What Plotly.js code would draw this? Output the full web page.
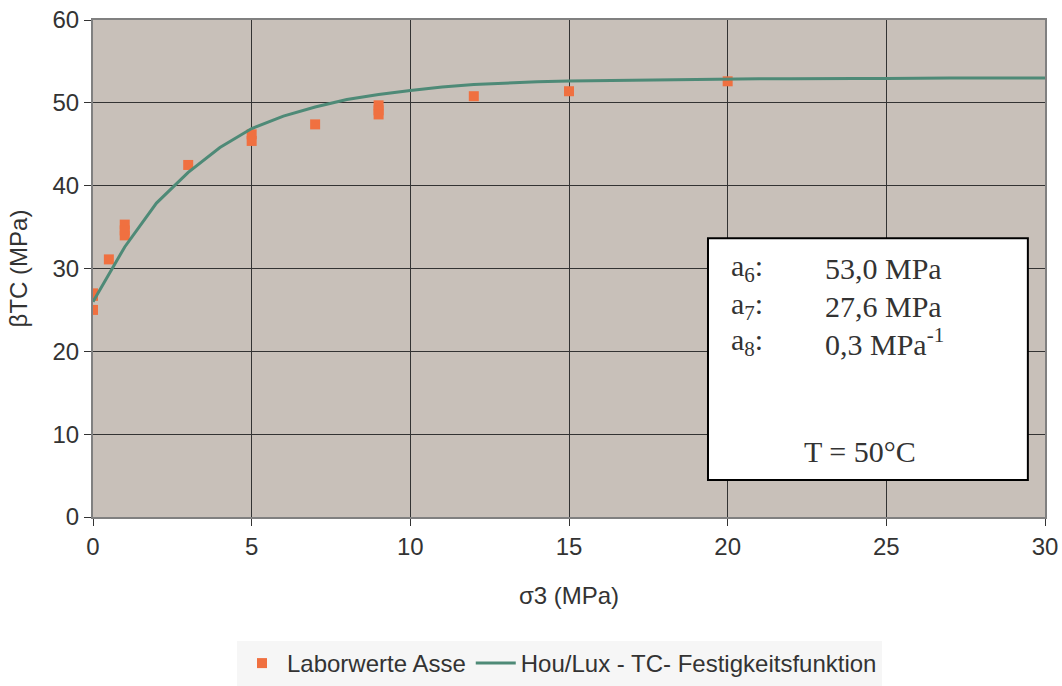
<!DOCTYPE html>
<html>
<head>
<meta charset="utf-8">
<script src="https://cdn.plot.ly/plotly-3.0.1.min.js"></script>
<style>html,body{margin:0;padding:0;background:#fff;}#chart{width:1062px;height:686px;}</style>
</head>
<body>
<div id="chart"></div>
<script>
// Laboratory values (σ3 in MPa, βTC in MPa)
const labX = [0, 0, 0, 0.5, 1, 1, 1, 3, 5, 5, 7, 9, 9, 9, 12, 15, 20];
const labY = [25.0, 26.7, 27.0, 31.1, 35.3, 34.6, 34.0, 42.5, 46.2, 45.4, 47.4, 49.7, 49.1, 48.6, 50.8, 51.4, 52.6];

// Hou/Lux curve
const curveX = [0, 1, 2, 3, 4, 5, 6, 7, 8, 9, 10, 11, 12, 13, 14, 15, 16, 17, 18, 19, 20, 21, 22, 23, 24, 25, 26, 27, 28, 29, 30];
const curveY = [26.0, 32.6, 37.9, 41.6, 44.6, 46.9, 48.4, 49.5, 50.4, 51.0, 51.5, 51.9, 52.2, 52.4, 52.55, 52.65, 52.7, 52.75, 52.8, 52.85, 52.85, 52.9, 52.9, 52.95, 52.95, 52.95, 53.0, 53.0, 53.0, 53.0, 53.0];

const xTicks = [0, 5, 10, 15, 20, 25, 30];
const yTicks = [0, 10, 20, 30, 40, 50, 60];

const seriesNames = ["Laborwerte Asse", "Hou/Lux - TC- Festigkeitsfunktion"];
const boxLabels = ["a<sub>6</sub>:", "a<sub>7</sub>:", "a<sub>8</sub>:"];
const boxValues = ["53,0 MPa", "27,6 MPa", "0,3 MPa<sup>-1</sup>"];
const boxTemp = "T = 50°C";

const traces = [
  {
    x: labX, y: labY, type: "scatter", mode: "markers", name: seriesNames[0],
    marker: {symbol: "square", size: 10, color: "#f07040"}
  },
  {
    x: curveX, y: curveY, type: "scatter", mode: "lines", name: seriesNames[1],
    line: {color: "#4e8a77", width: 3}
  }
];

const axisFont = {family: "Liberation Sans, Arial, sans-serif", size: 24, color: "#333333"};
const boxFont = {family: "Liberation Serif, Times New Roman, serif", size: 30, color: "#333333"};

const annotations = [];
const lineY = [0.501, 0.4245, 0.352];
boxLabels.forEach((t, i) => {
  annotations.push({xref: "paper", yref: "paper", x: 0.668, y: lineY[i], xanchor: "left", yanchor: "middle",
    text: t, showarrow: false, font: boxFont});
  annotations.push({xref: "paper", yref: "paper", x: 0.767, y: lineY[i], xanchor: "left", yanchor: "middle",
    text: boxValues[i], showarrow: false, font: boxFont});
});
annotations.push({xref: "paper", yref: "paper", x: 0.806, y: 0.131, xanchor: "center", yanchor: "middle",
  text: boxTemp, showarrow: false, font: boxFont});

const layout = {
  width: 1062, height: 686,
  margin: {l: 93, r: 17, t: 20, b: 169},
  paper_bgcolor: "#ffffff",
  plot_bgcolor: "#c8c0b9",
  showlegend: true,
  legend: {
    orientation: "h", xref: "paper", x: 0.49, xanchor: "center",
    yref: "container", y: 0.0, yanchor: "bottom",
    bgcolor: "#f6f6f6", font: {family: "Liberation Sans, Arial, sans-serif", size: 24, color: "#333333"},
    itemwidth: 40, tracegroupgap: 0
  },
  xaxis: {
    range: [0, 30], tickvals: xTicks, ticktext: xTicks.map(String),
    showgrid: true, gridcolor: "#333333", gridwidth: 1, zeroline: false,
    showline: true, linecolor: "#808080", linewidth: 2, mirror: true,
    ticks: "outside", ticklen: 7, tickcolor: "#333333", tickwidth: 1,
    tickfont: axisFont, automargin: false,
    title: {text: "σ3 (MPa)", font: axisFont, standoff: 28}
  },
  yaxis: {
    range: [0, 60], tickvals: yTicks, ticktext: yTicks.map(String),
    showgrid: true, gridcolor: "#333333", gridwidth: 1, zeroline: false,
    showline: true, linecolor: "#808080", linewidth: 2, mirror: true,
    ticks: "outside", ticklen: 7, tickcolor: "#333333", tickwidth: 1,
    tickfont: axisFont, automargin: false,
    title: {text: "βTC (MPa)", font: axisFont, standoff: 18}
  },
  shapes: [{
    type: "rect", xref: "paper", yref: "paper",
    x0: 0.646, x1: 0.982, y0: 0.0744, y1: 0.561,
    fillcolor: "#ffffff", line: {color: "#000000", width: 2}, layer: "above"
  }],
  annotations: annotations
};

Plotly.newPlot("chart", traces, layout, {displayModeBar: false, staticPlot: true});
</script>
</body>
</html>
